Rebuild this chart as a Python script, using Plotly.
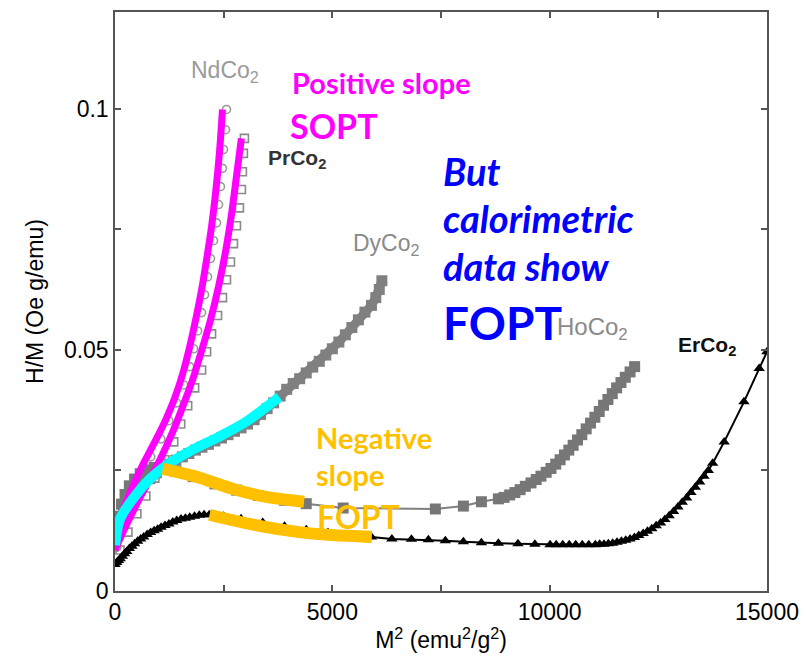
import plotly.graph_objects as go

# ---------------- data ----------------
nd_x = [46, 137, 252, 435, 618, 824, 1053, 1237, 1420, 1580, 1718, 1809, 1901, 1992, 2061, 2130,
        2198, 2267, 2336, 2382, 2427, 2473, 2496, 2542, 2565]
nd_y = [0.0091, 0.0129, 0.0166, 0.0203, 0.0241, 0.0278, 0.0315, 0.0353, 0.0390, 0.0427, 0.0465,
        0.0502, 0.0539, 0.0577, 0.0614, 0.0651, 0.0689, 0.0726, 0.0763, 0.0801, 0.0838, 0.0876,
        0.0915, 0.0956, 0.0998]

pr_x = [115, 298, 504, 710, 916, 1145, 1351, 1511, 1672, 1832, 1992, 2107, 2221, 2359, 2473, 2565,
        2656, 2725, 2794, 2862, 2908, 2931, 2954, 2977]
pr_y = [0.0085, 0.0122, 0.0160, 0.0197, 0.0234, 0.0272, 0.0309, 0.0346, 0.0384, 0.0421, 0.0458,
        0.0496, 0.0533, 0.0571, 0.0608, 0.0645, 0.0682, 0.0720, 0.0757, 0.0794, 0.0832, 0.0869,
        0.0907, 0.0938]

dy_x = [0, 60, 120, 200, 300, 400, 520, 650, 800, 950, 1100, 1250, 1400, 1550, 1700, 1850, 2000,
        2150, 2300, 2450, 2600, 2750, 2900, 3050, 3200, 3350, 3500, 3650, 3800, 3950, 4100, 4250,
        4400, 4550, 4700, 4850, 5000, 5150, 5300, 5450, 5600, 5750, 5900, 6000, 6080, 6140]
dy_y = [0.0100, 0.0120, 0.0140, 0.0160, 0.0180, 0.0195, 0.0210, 0.0222, 0.0233, 0.0245, 0.0255,
        0.0263, 0.0271, 0.0278, 0.0285, 0.0292, 0.0298, 0.0304, 0.0311, 0.0317, 0.0324, 0.0331,
        0.0338, 0.0346, 0.0355, 0.0366, 0.0378, 0.0390, 0.0404, 0.0418, 0.0430, 0.0440, 0.0452,
        0.0464, 0.0476, 0.0489, 0.0502, 0.0516, 0.0531, 0.0546, 0.0562, 0.0578, 0.0592, 0.0608,
        0.0625, 0.0643]

ho_x = [0, 40, 90, 150, 230, 330, 450, 580, 730, 900, 1100, 1400, 1800, 2300, 2800, 3300, 3900,
        4400, 5250, 7370, 8015, 8430, 8820, 8950, 9080, 9200, 9320, 9440, 9570, 9690, 9800, 9920,
        10030, 10140, 10240, 10340, 10440, 10540, 10640, 10740, 10840, 10940, 11040, 11140, 11240,
        11340, 11440, 11540, 11640, 11740, 11850, 11955]
ho_y = [0.0105, 0.0130, 0.0155, 0.0180, 0.0200, 0.0218, 0.0232, 0.0243, 0.0251, 0.0256, 0.0256,
        0.0248, 0.0237, 0.0222, 0.0209, 0.0198, 0.0188, 0.0181, 0.0172, 0.0170, 0.0176, 0.0185,
        0.0191, 0.0194, 0.0199, 0.0204, 0.0210, 0.0217, 0.0224, 0.0231, 0.0238, 0.0246, 0.0254,
        0.0263, 0.0272, 0.0282, 0.0292, 0.0302, 0.0313, 0.0324, 0.0336, 0.0348, 0.0360, 0.0372,
        0.0385, 0.0397, 0.0409, 0.0421, 0.0432, 0.0443, 0.0454, 0.0465]

er_x = [0, 40, 80, 120, 170, 220, 270, 330, 390, 450, 520, 590, 660, 740, 820, 900, 980, 1060,
        1150, 1240, 1330, 1420, 1520, 1620, 1720, 1830, 1940, 2050, 2170, 2300, 2500, 2900, 3400,
        3900, 4400, 4900, 5400, 5900, 6370, 6820, 7210, 7600, 8015, 8430, 8820, 9270, 9660, 10010,
        10150, 10300, 10450, 10600, 10750, 10900, 11050, 11150, 11250, 11350, 11450, 11550, 11650,
        11750, 11850, 11950, 12050, 12150, 12250, 12350, 12450, 12550, 12650, 12750, 12850, 12950,
        13050, 13150, 13250, 13350, 13450, 13550, 13650, 13750, 14015, 14470, 14820, 15000]
er_y = [0.0055, 0.0059, 0.0063, 0.0067, 0.0072, 0.0077, 0.0082, 0.0088, 0.0093, 0.0098, 0.0103,
        0.0108, 0.0112, 0.0117, 0.0121, 0.0125, 0.0128, 0.0132, 0.0136, 0.0139, 0.0143, 0.0146,
        0.0149, 0.0151, 0.0153, 0.0155, 0.0157, 0.0158, 0.0158, 0.0157, 0.0155, 0.0150, 0.0142,
        0.0134, 0.0127, 0.0121, 0.0116, 0.0112, 0.0108, 0.0107, 0.0106, 0.0104, 0.0102, 0.0100,
        0.0099, 0.0098, 0.0097, 0.0096, 0.0096, 0.0096, 0.0096, 0.0096, 0.0096, 0.0096, 0.0096,
        0.0097, 0.0097, 0.0098, 0.0099, 0.0101, 0.0103, 0.0105, 0.0108, 0.0111, 0.0115, 0.0119,
        0.0124, 0.0129, 0.0135, 0.0141, 0.0148, 0.0156, 0.0165, 0.0174, 0.0184, 0.0193, 0.0204,
        0.0215, 0.0226, 0.0238, 0.0250, 0.0265, 0.0309, 0.0392, 0.0461, 0.0496]

# hand-drawn highlight strokes
mag_nd_x = [0, 69, 229, 435, 664, 916, 1168, 1374, 1557, 1718, 1855, 1992, 2107, 2221, 2313, 2405, 2473]
mag_nd_y = [0.0085, 0.0133, 0.0178, 0.0222, 0.0266, 0.0309, 0.0355, 0.0400, 0.0450, 0.0506, 0.0562,
            0.0624, 0.0687, 0.0755, 0.0824, 0.0911, 0.0998]
mag_pr_x = [0, 252, 527, 802, 1076, 1328, 1557, 1786, 1992, 2198, 2382, 2542, 2679, 2794, 2908]
mag_pr_y = [0.0085, 0.0135, 0.0185, 0.0232, 0.0280, 0.0330, 0.0382, 0.0438, 0.0498, 0.0562, 0.0631,
            0.0703, 0.0780, 0.0859, 0.0938]
cyan_x = [0, 115, 412, 800, 1190, 1790, 2400, 3020, 3780]
cyan_y = [0.0095, 0.0149, 0.0191, 0.0232, 0.0261, 0.0293, 0.0320, 0.0351, 0.0402]
or1_x = [1100, 1900, 2700, 3480, 4350]
or1_y = [0.0253, 0.0236, 0.0212, 0.0195, 0.0185]
or2_x = [2175, 3090, 4240, 4990, 5910]
or2_y = [0.0158, 0.0139, 0.0122, 0.0116, 0.0112]

x_tickvals = [0, 2500, 5000, 7500, 10000, 12500, 15000]
x_ticktext = ["0", "", "5000", "", "10000", "", "15000"]
y_tickvals = [0, 0.025, 0.05, 0.075, 0.1]
y_ticktext = ["0", "", "0.05", "", "0.1"]

# ---------------- figure ----------------
fig = go.Figure()

fig.add_trace(go.Scatter(x=nd_x, y=nd_y, mode="markers",
                         marker=dict(symbol="circle-open", size=8, color="#9a9a9a", line=dict(width=1.6))))
fig.add_trace(go.Scatter(x=pr_x, y=pr_y, mode="markers",
                         marker=dict(symbol="square-open", size=8, color="#8a8a8a", line=dict(width=1.6))))
fig.add_trace(go.Scatter(x=dy_x, y=dy_y, mode="lines+markers", line=dict(color="#808080", width=9),
                         marker=dict(symbol="square", size=11, color="#808080")))
fig.add_trace(go.Scatter(x=ho_x, y=ho_y, mode="lines+markers", line=dict(color="#808080", width=2),
                         marker=dict(symbol="square", size=11, color="#777777")))
fig.add_trace(go.Scatter(x=er_x, y=er_y, mode="lines+markers", line=dict(color="black", width=2),
                         marker=dict(symbol="triangle-up", size=10, color="black")))

round_caps = dict(mode="lines+markers")
fig.add_trace(go.Scatter(x=mag_nd_x, y=mag_nd_y, mode="lines", line=dict(color="#FF00FF", width=7, shape="spline", smoothing=0.8)))
fig.add_trace(go.Scatter(x=mag_pr_x, y=mag_pr_y, mode="lines", line=dict(color="#FF00FF", width=7, shape="spline", smoothing=0.8)))
fig.add_trace(go.Scatter(x=cyan_x, y=cyan_y, mode="lines", line=dict(color="#00FFFF", width=10, shape="spline", smoothing=0.8)))
fig.add_trace(go.Scatter(x=or1_x, y=or1_y, mode="lines", line=dict(color="#FFC000", width=12, shape="spline", smoothing=0.8)))
fig.add_trace(go.Scatter(x=or2_x, y=or2_y, mode="lines", line=dict(color="#FFC000", width=12, shape="spline", smoothing=0.8)))

L, R, T, B = 115, 770, 10, 591


def px(x, y):
    return (x - L) / (R - L), (B - y) / (B - T)


def note(x, y, text, size, color, family="Liberation Sans", xanchor="center"):
    ax, ay = px(x, y)
    fig.add_annotation(x=ax, y=ay, xref="paper", yref="paper", text=text, showarrow=False,
                       xanchor=xanchor, yanchor="middle",
                       font=dict(size=size, color=color, family=family))


note(226, 70, "NdCo<sub>2</sub>", 23, "#9a9a9a")
note(298, 158, "<b>PrCo<sub>2</sub></b>", 21, "#333333")
note(388, 243, "DyCo<sub>2</sub>", 23, "#8a8a8a")
note(595, 328, "HoCo<sub>2</sub>", 24, "#8a8a8a")
note(710, 345, "<b>ErCo<sub>2</sub></b>", 21, "#111111")

note(291, 81, "<b>Positive slope</b>", 29, "#FF00FF", "Lato", "left")
note(289, 124, "<b>SOPT</b>", 34, "#FF00FF", "Lato", "left")
note(443, 170, "<b><i>But</i></b>", 38, "#0000FF", "Lato", "left")
note(443, 217, "<b><i>calorimetric</i></b>", 38, "#0000FF", "Lato", "left")
note(443, 265, "<b><i>data show</i></b>", 38, "#0000FF", "Lato", "left")
note(442, 322, "<b>FOPT</b>", 46, "#0000FF", "Lato", "left")
note(315, 437, "<b>Negative</b>", 29, "#FFC000", "Lato", "left")
note(315, 474, "<b>slope</b>", 29, "#FFC000", "Lato", "left")
note(316, 516, "<b>FOPT</b>", 32, "#FFC000", "Lato", "left")

axis_common = dict(showline=True, linecolor="#555555", linewidth=1.5, mirror="ticks",
                   ticks="inside", ticklen=6, tickwidth=1.5, tickcolor="#555555",
                   showgrid=False, zeroline=False,
                   tickfont=dict(family="Liberation Sans", size=23, color="black"))

fig.update_layout(
    width=809, height=664,
    margin=dict(l=L, r=809 - R, t=T, b=664 - B),
    plot_bgcolor="white", paper_bgcolor="white",
    showlegend=False,
    xaxis=dict(range=[0, 15000], tickvals=x_tickvals, ticktext=x_ticktext,
               title=dict(text="M<sup>2</sup> (emu<sup>2</sup>/g<sup>2</sup>)", standoff=8,
                          font=dict(family="Liberation Sans", size=23, color="black")),
               **axis_common),
    yaxis=dict(range=[0, 0.12], tickvals=y_tickvals, ticktext=y_ticktext,
               title=dict(text="H/M (Oe g/emu)", standoff=14,
                          font=dict(family="Liberation Sans", size=23, color="black")),
               **axis_common),
)

fig.write_html("out.html")
